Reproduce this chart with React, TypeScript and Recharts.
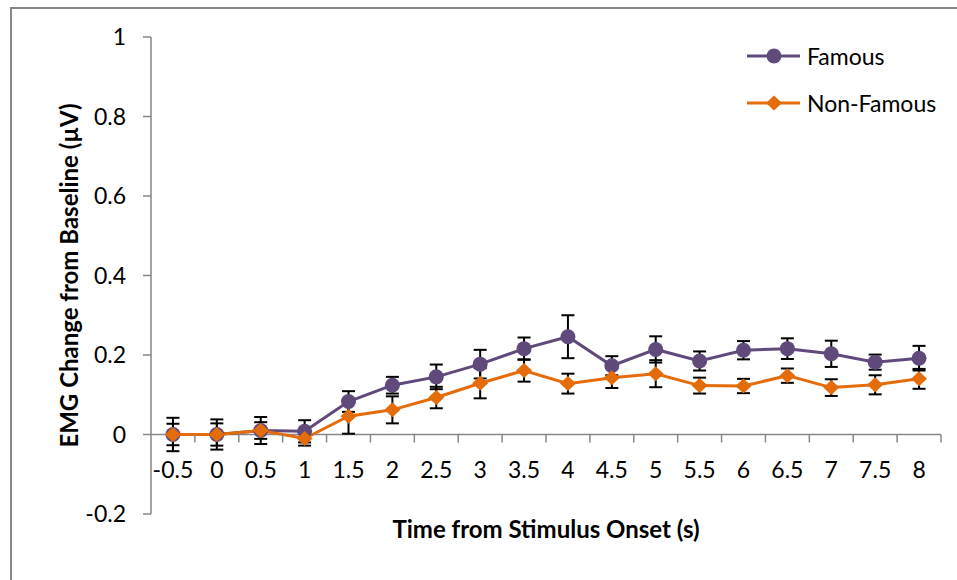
import React from "react";
import {
  LineChart,
  Line,
  XAxis,
  YAxis,
  ErrorBar,
  ReferenceLine,
  Legend,
} from "recharts";

const times = ["-0.5", "0", "0.5", "1", "1.5", "2", "2.5", "3", "3.5", "4", "4.5", "5", "5.5", "6", "6.5", "7", "7.5", "8"];
const famous = [0, 0, 0.01, 0.008, 0.083, 0.124, 0.145, 0.177, 0.216, 0.246, 0.173, 0.214, 0.185, 0.212, 0.216, 0.203, 0.182, 0.192];
const famousErr = [0.042, 0.038, 0.034, 0.028, 0.026, 0.021, 0.031, 0.036, 0.028, 0.054, 0.024, 0.033, 0.024, 0.023, 0.026, 0.033, 0.019, 0.031];
const nonFamous = [0, 0, 0.01, -0.01, 0.046, 0.062, 0.093, 0.129, 0.161, 0.128, 0.143, 0.153, 0.123, 0.122, 0.148, 0.118, 0.125, 0.14];
const nonFamousErr = [0.027, 0.028, 0.021, 0.018, 0.044, 0.034, 0.027, 0.038, 0.028, 0.025, 0.026, 0.034, 0.02, 0.018, 0.018, 0.021, 0.024, 0.025];
const yTicks = [-0.2, 0, 0.2, 0.4, 0.6, 0.8, 1];

const data = times.map((t, i) => ({
  t,
  famous: famous[i],
  famousErr: famousErr[i],
  nonFamous: nonFamous[i],
  nonFamousErr: nonFamousErr[i],
}));

const W = 957;
const H = 580;
const M = { top: 37, right: 16, left: 0, bottom: 0 };
const Y_AXIS_W = 151;
const X_AXIS_H = 66;
const PLOT_W = W - M.left - M.right - Y_AXIS_W;
const PLOT_H = H - M.top - M.bottom - X_AXIS_H;
const Y_MIN = -0.2;
const Y_MAX = 1;
// x axis crosses at y = 0, not at the bottom of the plot
const ZERO_SHIFT = (PLOT_H * (0 - Y_MIN)) / (Y_MAX - Y_MIN);
const BAND = PLOT_W / times.length;

const PURPLE = "#604a7b";
const ORANGE = "#e46c0a";
const AXIS = "#868686";
const FONT = "Lato, 'Open Sans', sans-serif";
const TICK_FS = 23;
const TITLE_FS = 24;

const XTick = (props: any) => {
  const { x, y, payload } = props;
  const zy = y - ZERO_SHIFT;
  return (
    <g>
      <line x1={x + BAND / 2} x2={x + BAND / 2} y1={zy} y2={zy + 8} stroke={AXIS} strokeWidth={1.5} />
      <text x={x} y={zy + 43} textAnchor="middle" fill="#000" fontSize={TICK_FS} fontFamily={FONT}>
        {payload.value}
      </text>
    </g>
  );
};

const Diamond = (props: any) => {
  const { cx, cy, index } = props;
  if (cx == null || cy == null) return <g key={`nd-${index}`} />;
  return (
    <polygon
      key={`nd-${index}`}
      points={`${cx},${cy - 7.5} ${cx + 8},${cy} ${cx},${cy + 7.5} ${cx - 8},${cy}`}
      fill={ORANGE}
    />
  );
};

const LegendBox = () => (
  <svg width={210} height={84}>
    <line x1={2} x2={55} y1={16} y2={16} stroke={PURPLE} strokeWidth={3} />
    <circle cx={29} cy={16} r={7.5} fill={PURPLE} />
    <text x={62} y={16} dominantBaseline="central" fontSize={TICK_FS} fontFamily={FONT} fill="#000">
      Famous
    </text>
    <line x1={2} x2={55} y1={63} y2={63} stroke={ORANGE} strokeWidth={3} />
    <polygon points="29,55.5 37,63 29,70.5 21,63" fill={ORANGE} />
    <text x={62} y={63} dominantBaseline="central" fontSize={TICK_FS} fontFamily={FONT} fill="#000">
      Non-Famous
    </text>
  </svg>
);

export default function App() {
  return (
    <div style={{ position: "absolute", left: 0, top: 0, width: W, height: H, overflow: "hidden", background: "#fff" }}>
      <div
        style={{
          position: "absolute",
          left: 10,
          top: 7,
          width: 980,
          height: 620,
          border: "2px solid #878787",
        }}
      />
      <LineChart width={W} height={H} data={data} margin={M} style={{ position: "absolute", left: 0, top: 0 }}>
        <XAxis
          dataKey="t"
          height={X_AXIS_H}
          axisLine={false}
          tickLine={false}
          tickSize={0}
          tickMargin={0}
          interval={0}
          padding={{ left: BAND / 2, right: BAND / 2 }}
          tick={<XTick />}
          label={{
            value: "Time from Stimulus Onset (s)",
            position: "insideBottom",
            offset: 42,
            style: { fontWeight: "bold", fontSize: TITLE_FS, fill: "#000", fontFamily: FONT },
          }}
        />
        <YAxis
          width={Y_AXIS_W}
          domain={[Y_MIN, Y_MAX]}
          ticks={yTicks}
          interval={0}
          axisLine={{ stroke: AXIS, strokeWidth: 1.5 }}
          tickLine={{ stroke: AXIS, strokeWidth: 1.5 }}
          tickSize={8}
          tickMargin={17}
          tick={{ fill: "#000", fontSize: TICK_FS, fontFamily: FONT }}
          label={{
            value: "EMG Change from Baseline (µV)",
            angle: -90,
            position: "insideLeft",
            offset: 69,
            style: { textAnchor: "middle", fontWeight: "bold", fontSize: TITLE_FS, fill: "#000", fontFamily: FONT },
          }}
        />
        <ReferenceLine y={0} stroke={AXIS} strokeWidth={1.5} />
        <Legend
          layout="vertical"
          align="center"
          verticalAlign="middle"
          content={<LegendBox />}
          wrapperStyle={{ left: 745, top: 40, width: 210, height: 84 }}
        />
        <Line
          type="linear"
          dataKey="famous"
          stroke={PURPLE}
          strokeWidth={3}
          dot={{ r: 7.5, fill: PURPLE, stroke: PURPLE, strokeWidth: 0 }}
          activeDot={false}
          isAnimationActive={false}
        >
          <ErrorBar dataKey="famousErr" width={6.5} strokeWidth={2} stroke="#000" direction="y" />
        </Line>
        <Line
          type="linear"
          dataKey="nonFamous"
          stroke={ORANGE}
          strokeWidth={3}
          dot={Diamond}
          activeDot={false}
          isAnimationActive={false}
        >
          <ErrorBar dataKey="nonFamousErr" width={6.5} strokeWidth={2} stroke="#000" direction="y" />
        </Line>
      </LineChart>
    </div>
  );
}
